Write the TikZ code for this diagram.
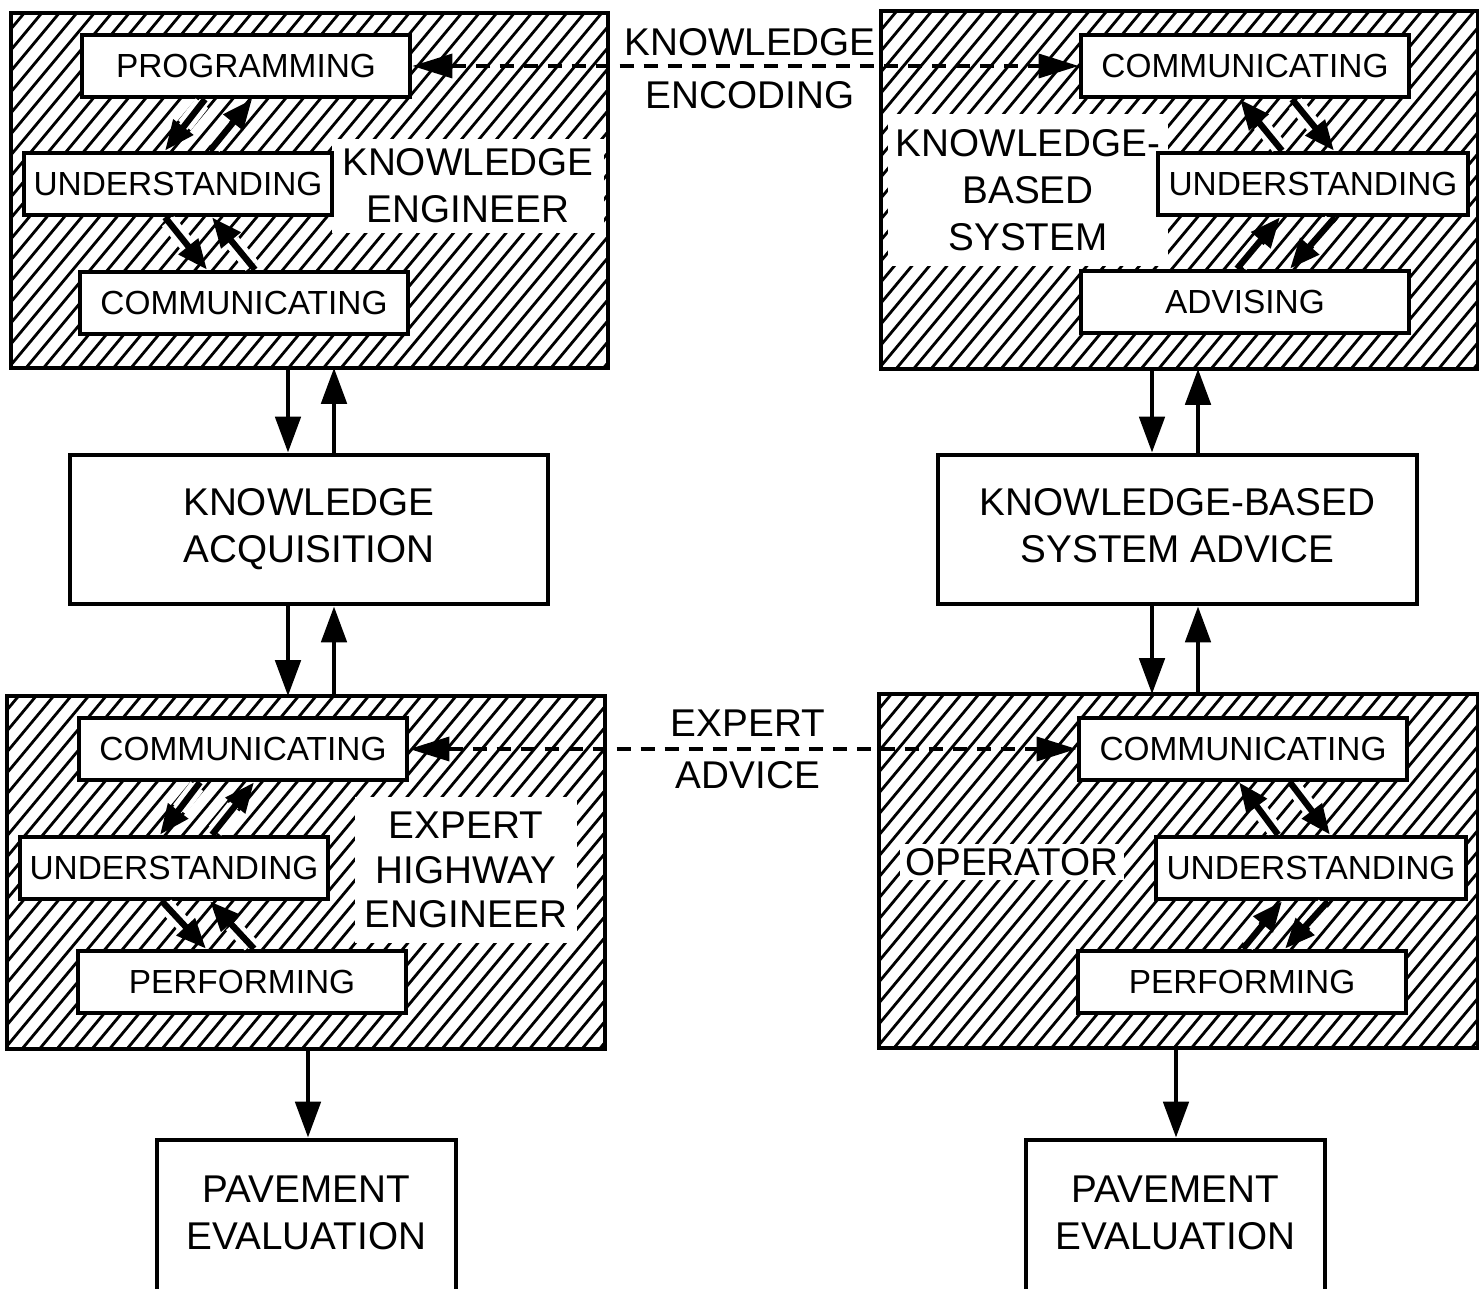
\documentclass[tikz,border=0pt]{standalone}
\usepackage{fontspec}
\setmainfont{Liberation Sans}
\usetikzlibrary{arrows.meta,calc}

\tikzset{
  frame/.style={line width=1.3pt},
  task/.style={draw, fill=white, line width=1.3pt, inner sep=0pt,
    minimum width=3.28cm, minimum height=0.62cm, font=\fontsize{9.5}{11}\selectfont},
  bigbox/.style={draw, fill=white, line width=1.3pt, inner sep=0pt, align=center,
    font=\fontsize{11}{13.4}\selectfont},
  who/.style={fill=white, align=center, inner xsep=0.1cm, inner ysep=0.1cm,
    font=\fontsize{11}{13.4}\selectfont},
  hatch/.style={line width=0.8pt},
  flow/.style={-{Triangle[length=0.36cm,width=0.25cm]}, line width=1.4pt},
  turn/.style={-{Triangle[length=0.3cm,width=0.24cm]}, line width=1.8pt,
    preaction={draw=white, line width=4.5pt, -, shorten >=0.32cm, shorten <=0.05cm}},
  talk/.style={{Triangle[length=0.4cm,width=0.24cm]}-{Triangle[length=0.4cm,width=0.24cm]},
    dash pattern=on 0.14cm off 0.1cm, line width=1pt},
}

% diagonal hatching inside a named box
\newcommand\hatchin[1]{%
  \begin{scope}
    \clip (#1.south west) rectangle (#1.north east);
    \foreach \k in {0,...,53}
      \draw[hatch] ($(#1.south west)+(\k*17.5-300,0)$) -- ++(300,-360);
  \end{scope}}

\begin{document}
\begin{tikzpicture}[x=0.01cm, y=-0.01cm]
  \useasboundingbox (0,0) rectangle (1479,1289);

  % the four hatched boxes
  \node[inner sep=0pt, minimum width=5.95cm, minimum height=3.53cm] (ke) at (309.5,190.5) {};
  \node[inner sep=0pt, minimum width=5.95cm, minimum height=3.56cm] (kbs) at (1179.5,190) {};
  \node[inner sep=0pt, minimum width=5.96cm, minimum height=3.51cm] (expert) at (306,872.5) {};
  \node[inner sep=0pt, minimum width=5.97cm, minimum height=3.52cm] (opbox) at (1178.5,871) {};
  \hatchin{ke}
  \hatchin{kbs}
  \hatchin{expert}
  \hatchin{opbox}

  \node[who] (kelabel) at (468,186) {KNOWLEDGE\\ENGINEER};
  \node[who, inner xsep=0.08cm, inner ysep=0.15cm] (kbslabel) at (1028,190) {KNOWLEDGE-\\BASED\\SYSTEM};
  \node[who, font=\fontsize{11}{12.7}\selectfont, inner ysep=0.15cm] (exlabel) at (466,870) {EXPERT\\HIGHWAY\\ENGINEER};
  \node[who, inner xsep=0.05cm, inner ysep=0.04cm] (oplabel) at (1012,862) {OPERATOR};

  \foreach \b in {ke,kbs,expert,opbox}
    \draw[frame] (\b.south west) rectangle (\b.north east);

  % boxes inside
  \node[task] (keprog) at (246,66) {PROGRAMMING};
  \node[task, minimum width=3.08cm] (keund) at (178,184) {UNDERSTANDING};
  \node[task] (kecomm) at (244,303) {COMMUNICATING};

  \node[task] (kbscomm) at (1245,66) {COMMUNICATING};
  \node[task, minimum width=3.1cm] (kbsund) at (1313,184) {UNDERSTANDING};
  \node[task] (kbsadv) at (1245,302) {ADVISING};

  \node[task] (excomm) at (243,749) {COMMUNICATING};
  \node[task, minimum width=3.08cm] (exund) at (174,868) {UNDERSTANDING};
  \node[task] (experf) at (242,982) {PERFORMING};

  \node[task] (opcomm) at (1243,749) {COMMUNICATING};
  \node[task, minimum width=3.1cm] (opund) at (1311,868) {UNDERSTANDING};
  \node[task] (opperf) at (1242,982) {PERFORMING};

  % middle and bottom boxes
  \node[bigbox, minimum width=4.78cm, minimum height=1.49cm] (acq) at (309,529.5) {KNOWLEDGE\\ACQUISITION};
  \node[bigbox, minimum width=4.79cm, minimum height=1.49cm] (advice) at (1177.5,529.5) {KNOWLEDGE-BASED\\SYSTEM ADVICE\vphantom{Q}};
  \node[bigbox, minimum width=2.99cm, minimum height=1.52cm] (evalL) at (306.5,1216) {PAVEMENT\\EVALUATION\vphantom{Q}};
  \node[bigbox, minimum width=2.99cm, minimum height=1.52cm] (evalR) at (1175.5,1216) {PAVEMENT\\EVALUATION\vphantom{Q}};

  % texts between the columns
  \node[align=center, font=\fontsize{11}{15}\selectfont] (encoding) at (750,68.5) {KNOWLEDGE\\ENCODING};
  \node[align=center, font=\fontsize{11}{15}\selectfont] (expadv) at (748,749.5) {EXPERT\\ADVICE};

  \draw[talk] (keprog.east) -- (kbscomm.west);
  \draw[talk] (excomm.east) -- (opcomm.west);

  % vertical arrows
  \draw[flow] (288,0 |- ke.south) -- (288,0 |- acq.north);
  \draw[flow] (334,0 |- acq.north) -- (334,0 |- ke.south);
  \draw[flow] (288,0 |- acq.south) -- (288,0 |- expert.north);
  \draw[flow] (334,0 |- expert.north) -- (334,0 |- acq.south);
  \draw[flow] (308,0 |- expert.south) -- (308,0 |- evalL.north);

  \draw[flow] (1152,0 |- kbs.south) -- (1152,0 |- advice.north);
  \draw[flow] (1198,0 |- advice.north) -- (1198,0 |- kbs.south);
  \draw[flow] (1152,0 |- advice.south) -- (1152,0 |- opbox.north);
  \draw[flow] (1198,0 |- opbox.north) -- (1198,0 |- advice.south);
  \draw[flow] (1176,0 |- opbox.south) -- (1176,0 |- evalR.north);

  % arrows between the inner boxes
  \draw[turn] (205,0 |- keprog.south) -- (165,0 |- keund.north);
  \draw[turn] (210,0 |- keund.north) -- (252,0 |- keprog.south);
  \draw[turn] (165,0 |- keund.south) -- (207,0 |- kecomm.north);
  \draw[turn] (255,0 |- kecomm.north) -- (212,0 |- keund.south);

  \draw[turn] (1282,0 |- kbsund.north) -- (1240,0 |- kbscomm.south);
  \draw[turn] (1292,0 |- kbscomm.south) -- (1334,0 |- kbsund.north);
  \draw[turn] (1237,0 |- kbsadv.north) -- (1280,0 |- kbsund.south);
  \draw[turn] (1335,0 |- kbsund.south) -- (1290,0 |- kbsadv.north);

  \draw[turn] (200,0 |- excomm.south) -- (160,0 |- exund.north);
  \draw[turn] (212,0 |- exund.north) -- (254,0 |- excomm.south);
  \draw[turn] (162,0 |- exund.south) -- (206,0 |- experf.north);
  \draw[turn] (254,0 |- experf.north) -- (210,0 |- exund.south);

  \draw[turn] (1278,0 |- opund.north) -- (1239,0 |- opcomm.south);
  \draw[turn] (1290,0 |- opcomm.south) -- (1330,0 |- opund.north);
  \draw[turn] (1243,0 |- opperf.north) -- (1282,0 |- opund.south);
  \draw[turn] (1328,0 |- opund.south) -- (1285,0 |- opperf.north);
\end{tikzpicture}
\end{document}
